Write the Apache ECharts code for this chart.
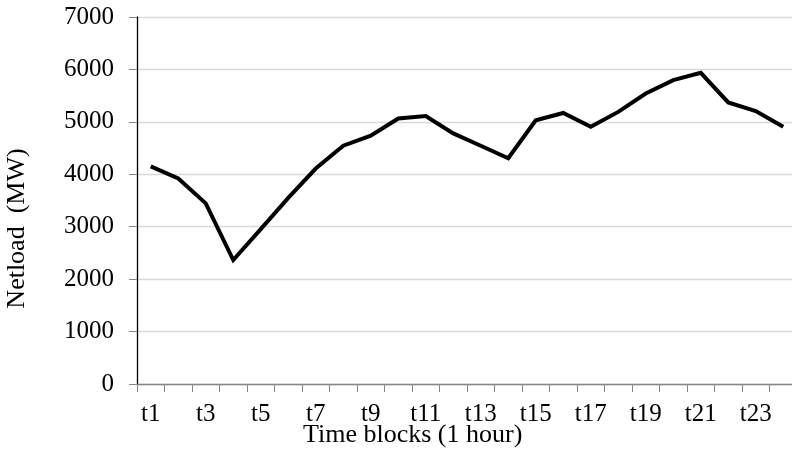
<!DOCTYPE html>
<html>
<head>
<meta charset="utf-8">
<script src="https://cdn.jsdelivr.net/npm/echarts@6/dist/echarts.min.js"></script>
<style>
  html, body { margin: 0; padding: 0; background: #fff; }
</style>
</head>
<body>
<div id="chart" style="width: 792px;height: 458px;"></div>
<script>
// time blocks and net load (MW)
const timeBlocks = ['t1', 't2', 't3', 't4', 't5', 't6', 't7', 't8', 't9', 't10', 't11', 't12',
  't13', 't14', 't15', 't16', 't17', 't18', 't19', 't20', 't21', 't22', 't23', 't24'];
const netload = [4150, 3920, 3445, 2365, 2955, 3550, 4110, 4545, 4735, 5065, 5110, 4780,
  4545, 4305, 5030, 5170, 4905, 5190, 5540, 5795, 5935, 5370, 5205, 4905];
const yTicks = { min: 0, max: 7000, interval: 1000 };

const font = 'Liberation Serif, Times New Roman, serif';
const myChart = echarts.init(document.getElementById('chart'));

const option = {
  animation: false,
  title: {
    text: 'Time blocks (1 hour)',
    left: 303,
    top: 422,
    padding: 0,
    textStyle: { fontFamily: font, fontSize: 26, fontWeight: 'normal', color: '#000' }
  },
  grid: {
    left: 137, top: 17, right: -5, bottom: 74,
    containLabel: false,
    outerBoundsMode: 'none'
  },
  xAxis: {
    type: 'category',
    data: timeBlocks,
    boundaryGap: true,
    axisLine: { lineStyle: { color: '#868686', width: 1.3 } },
    axisTick: { show: true, length: 8, interval: 0, lineStyle: { color: '#868686' } },
    axisLabel: {
      interval: 1,
      margin: 18,
      fontFamily: font, fontSize: 25, color: '#000'
    },
    splitLine: { show: false }
  },
  yAxis: {
    type: 'value',
    min: yTicks.min,
    max: yTicks.max,
    interval: yTicks.interval,
    name: 'Netload  (MW)',
    nameLocation: 'middle',
    nameGap: 107,
    nameTextStyle: { fontFamily: font, fontSize: 26, color: '#000', padding: [0, 56, 0, 0] },
    axisLine: { show: true, lineStyle: { color: '#000', width: 1.3 } },
    axisTick: { show: true, length: 8, lineStyle: { color: '#868686' } },
    axisLabel: {
      margin: 23,
      fontFamily: font, fontSize: 25, color: '#000',
      formatter: (v) => String(v)
    },
    splitLine: { show: true, lineStyle: { color: '#d9d9d9', width: 1.3 } }
  },
  series: [
    {
      name: 'Netload',
      type: 'line',
      data: netload,
      showSymbol: false,
      symbol: 'none',
      lineStyle: { color: '#000', width: 4, join: 'miter' }
    }
  ]
};
myChart.setOption(option);
window.addEventListener('resize', () => {
  myChart.resize();
});
</script>
</body>
</html>
